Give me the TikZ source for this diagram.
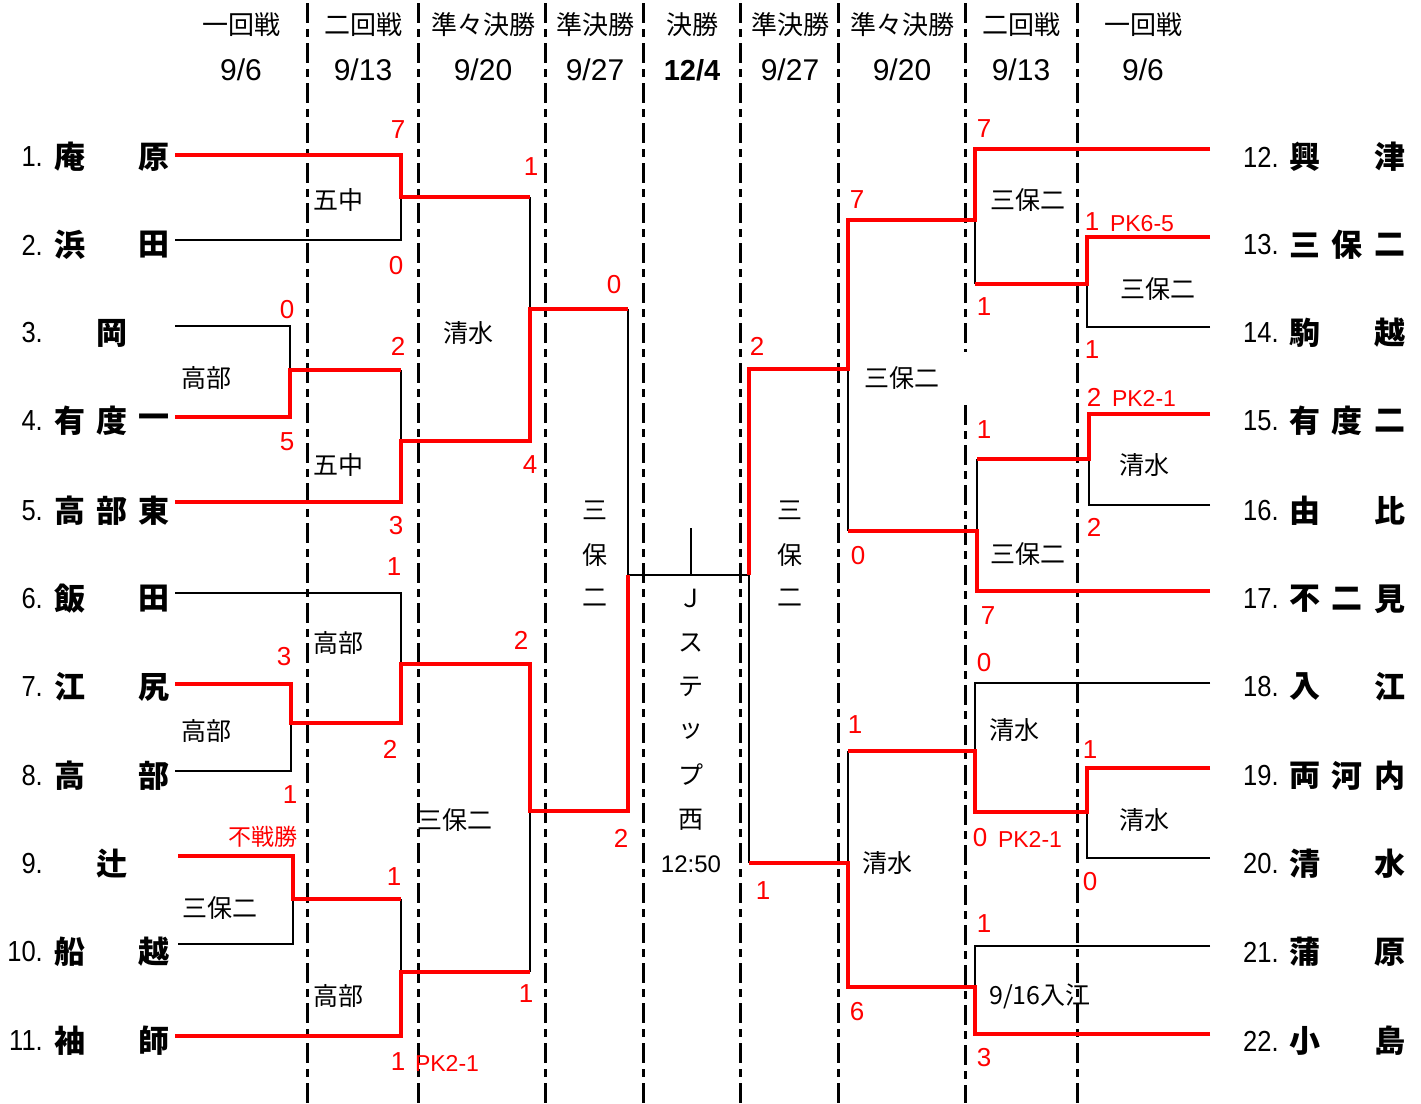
\documentclass[tikz,border=0pt]{standalone}
\usepackage{fontspec}
\setmainfont{Liberation Sans}
\newfontfamily\narrowf[FakeStretch=0.88]{Liberation Sans}
\newfontfamily\cjk{Noto Sans CJK JP}
\newcommand\lteam[5]{%
  \node[num,anchor=east] (ln#1) at (43,#2) {#1.};
  \node[nm] (la#1) at (70,#2) {#3};
  \node[nm] (lb#1) at (112,#2) {#4};
  \node[nm] (lc#1) at (154,#2) {#5};}
\newcommand\rteam[5]{%
  \node[num,anchor=west] (rn#1) at (1243,#2) {#1.};
  \node[nm] (ra#1) at (1305,#2) {#3};
  \node[nm] (rb#1) at (1347,#2) {#4};
  \node[nm] (rc#1) at (1390,#2) {#5};}
\begin{document}
\begin{tikzpicture}[x=1pt,y=-1pt,
  rl/.style={red,line width=3.6pt},
  bl/.style={black,line width=1.4pt},
  dl/.style={black,line width=3pt,dash pattern=on 20pt off 6pt on 8pt off 6pt},
  sc/.style={text=red,inner sep=0pt,font=\fontsize{26}{26}\selectfont},
  pk/.style={text=red,inner sep=0pt,font=\fontsize{23}{23}\selectfont},
  vn/.style={inner sep=0pt,font=\cjk\fontsize{25}{25}\selectfont},
  hd/.style={inner sep=0pt,font=\cjk\fontsize{26}{26}\selectfont},
  dt/.style={inner sep=0pt,font=\fontsize{30}{30}\selectfont},
  num/.style={inner sep=0pt,font=\narrowf\fontsize{29}{29}\selectfont},
  nm/.style={inner sep=0pt,font=\cjk\bfseries\fontsize{31}{31}\selectfont},
]
\useasboundingbox[fill=white] (0,0) rectangle (1421,1103);

% dashed round separators
\foreach \x in {307,418,545,643,740,838,1077}
  \draw[dl] (\x,3) -- (\x,1103);
\draw[dl] (965,3) -- (965,352);
\draw[dl] (965,405) -- (965,1103);

% header
\foreach \x/\t in {241/一回戦, 363/二回戦, 483/準々決勝, 595/準決勝,
  790/準決勝, 902/準々決勝, 1021/二回戦, 1143/一回戦}
  \node[hd] at (\x,25) {\t};
\node[hd] (hfin) at (692,25) {決勝};
\node[dt] (d1) at (241,70) {9/6};
\node[dt] (d2) at (363,70) {9/13};
\node[dt] (d3) at (483,70) {9/20};
\node[dt] (d4) at (595,70) {9/27};
\node[dt,font=\bfseries\fontsize{29}{29}\selectfont] (dfin) at (692,70) {12/4};
\node[dt] (d6) at (790,70) {9/27};
\node[dt] (d7) at (902,70) {9/20};
\node[dt] (d8) at (1021,70) {9/13};
\node[dt] (d9) at (1143,70) {9/6};

% teams left
\lteam{1}{157}{庵}{}{原}
\lteam{2}{245}{浜}{}{田}
\lteam{3}{333}{}{岡}{}
\lteam{4}{421}{有}{度}{一}
\lteam{5}{511}{高}{部}{東}
\lteam{6}{599}{飯}{}{田}
\lteam{7}{687}{江}{}{尻}
\lteam{8}{776}{高}{}{部}
\lteam{9}{864}{}{辻}{}
\lteam{10}{952}{船}{}{越}
\lteam{11}{1041}{袖}{}{師}
% teams right
\rteam{12}{157}{興}{}{津}
\rteam{13}{245}{三}{保}{二}
\rteam{14}{333}{駒}{}{越}
\rteam{15}{421}{有}{度}{二}
\rteam{16}{511}{由}{}{比}
\rteam{17}{599}{不}{二}{見}
\rteam{18}{687}{入}{}{江}
\rteam{19}{776}{両}{河}{内}
\rteam{20}{864}{清}{}{水}
\rteam{21}{952}{蒲}{}{原}
\rteam{22}{1041}{小}{}{島}

% ---------- left bracket: black lines ----------
\draw[bl] (175,240) -- (401,240) -- (401,197);
\draw[bl] (175,326) -- (290,326) -- (290,417);
\draw[bl] (401,370) -- (401,441);
\draw[bl] (530,197) -- (530,309);
\draw[bl] (628,309) -- (628,575);
\draw[bl] (175,593) -- (401,593) -- (401,664);
\draw[bl] (175,771) -- (291,771) -- (291,723);
\draw[bl] (178,944) -- (293,944) -- (293,899);
\draw[bl] (401,899) -- (401,972);
\draw[bl] (530,811) -- (530,972);
% final
\draw[bl] (628,575) -- (749,575);
\draw[bl] (691,528) -- (691,575);
% ---------- left bracket: red lines ----------
\draw[rl] (175,155) -- (401,155) -- (401,197) -- (530,197);
\draw[rl] (175,417) -- (290,417) -- (290,370) -- (401,370);
\draw[rl] (175,502) -- (401,502) -- (401,441) -- (530,441) -- (530,309) -- (628,309);
\draw[rl] (175,684) -- (291,684) -- (291,723) -- (401,723) -- (401,664) -- (530,664) -- (530,811) -- (628,811) -- (628,575);
\draw[rl] (178,856) -- (293,856) -- (293,899) -- (401,899);
\draw[rl] (175,1036) -- (401,1036) -- (401,972) -- (530,972);

% ---------- right bracket: black lines ----------
\draw[bl] (975,220) -- (975,284);
\draw[bl] (1210,327) -- (1087,327) -- (1087,284);
\draw[bl] (848,369) -- (848,531);
\draw[bl] (1210,505) -- (1089,505) -- (1089,459);
\draw[bl] (977,459) -- (977,531);
\draw[bl] (749,575) -- (749,863);
\draw[bl] (1210,683) -- (975,683) -- (975,751);
\draw[bl] (1210,858) -- (1087,858) -- (1087,812);
\draw[bl] (848,751) -- (848,863);
\draw[bl] (1210,946) -- (975,946) -- (975,987);
% ---------- right bracket: red lines ----------
\draw[rl] (1210,149) -- (975,149) -- (975,220) -- (848,220) -- (848,369) -- (749,369) -- (749,575);
\draw[rl] (1210,237) -- (1087,237) -- (1087,284) -- (975,284);
\draw[rl] (1210,414) -- (1089,414) -- (1089,459) -- (977,459);
\draw[rl] (1210,591) -- (977,591) -- (977,531) -- (848,531);
\draw[rl] (1210,768) -- (1087,768) -- (1087,812) -- (975,812) -- (975,751) -- (848,751);
\draw[rl] (1210,1034) -- (975,1034) -- (975,987) -- (848,987) -- (848,863) -- (749,863);

% ---------- scores left ----------
\foreach \x/\y/\s in {398/130/7, 396/266/0, 287/310/0, 287/442/5, 398/346/2, 396/526/3,
  531/167/1, 530/465/4, 614/285/0, 394/567/1, 284/657/3, 390/749/2, 290/795/1,
  521/640/2, 394/877/1, 526/994/1, 621/838/2, 398/1062/1}
  \node[sc] at (\x,\y) {\s};
\node[pk] (pkl) at (447,1063) {PK2-1};
\node[text=red,inner sep=0pt,font=\cjk\fontsize{23}{23}\selectfont] (fusen) at (263,837) {不戦勝};

% ---------- scores right ----------
\foreach \x/\y/\s in {984/129/7, 984/307/1, 1092/222/1, 1092/350/1, 1094/397/2, 1094/527/2,
  984/430/1, 988/616/7, 857/200/7, 858/556/0, 757/346/2, 763/891/1, 984/663/0,
  980/838/0, 1090/750/1, 1090/882/0, 855/725/1, 857/1012/6, 984/924/1, 984/1058/3}
  \node[sc] at (\x,\y) {\s};
\node[pk] (pkr1) at (1142,224) {PK6-5};
\node[pk] (pkr2) at (1144,398) {PK2-1};
\node[pk] (pkr3) at (1030,839) {PK2-1};

% ---------- venues ----------
\foreach \x/\y/\t in {338/200/五中, 206/378/高部, 338/465/五中, 468/333/清水, 338/643/高部,
  206/731/高部, 455/820/三保二, 220/908/三保二, 338/996/高部,
  1028/200/三保二, 1158/289/三保二, 902/378/三保二, 1144/465/清水, 1028/554/三保二,
  1014/730/清水, 1144/820/清水, 887/863/清水}
  \node[vn] at (\x,\y) {\t};
\node[vn] (v916) at (1040,996) {9/16{\cjk 入江}};

% vertical texts
\foreach \y/\t in {510/三, 555/保, 598/二}{
  \node[vn] at (595,\y) {\t};
  \node[vn] at (790,\y) {\t};
}
\foreach \y/\t in {598/Ｊ, 643/ス, 687/テ, 731/ッ, 775/プ, 820/西}
  \node[vn] at (691,\y) {\t};
\node[inner sep=0pt,font=\fontsize{24}{24}\selectfont] (time) at (691,864) {12:50};
\end{tikzpicture}
\end{document}
